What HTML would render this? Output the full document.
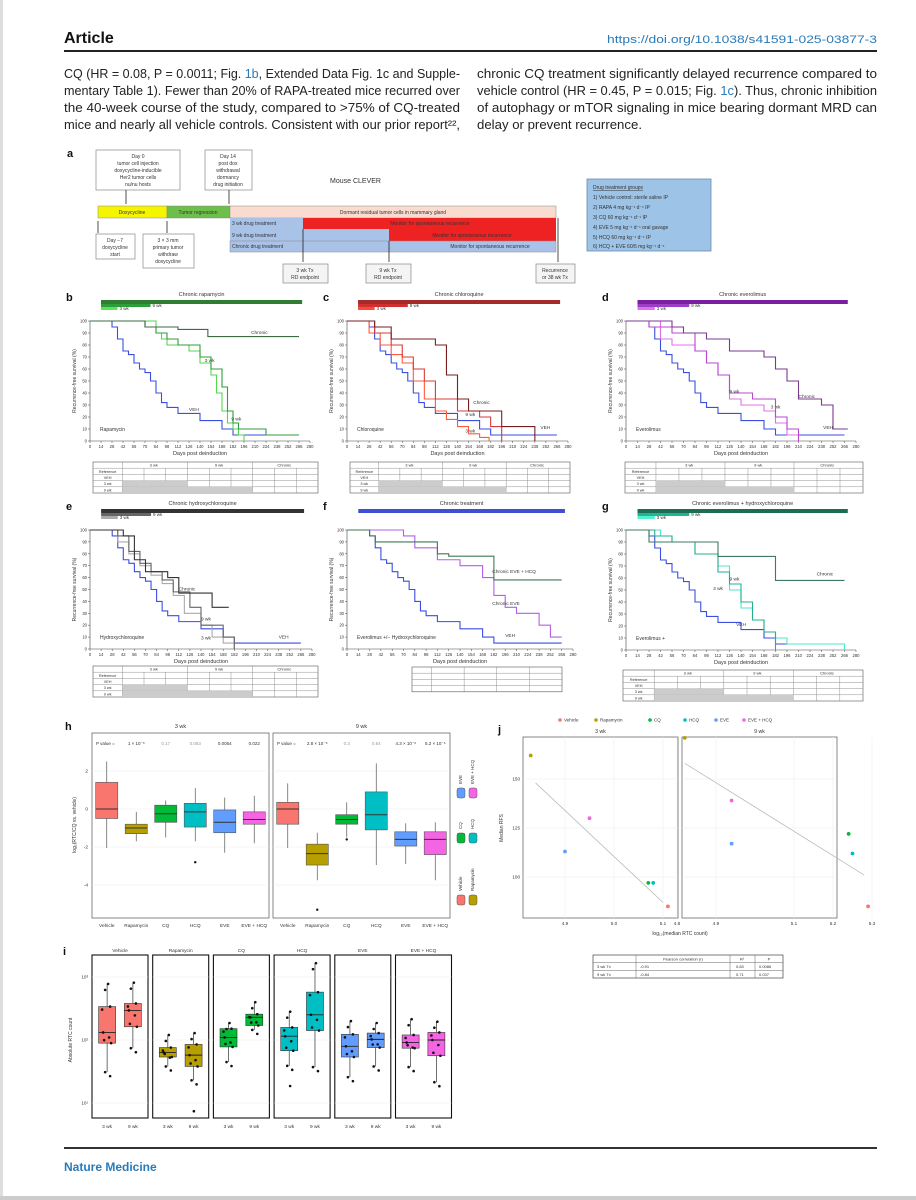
<!DOCTYPE html>
<html><head><meta charset="utf-8"><style>
html,body{margin:0;padding:0;background:#fff;width:916px;height:1200px;overflow:hidden}
svg{display:block;font-family:"Liberation Sans",sans-serif}
</style></head><body>
<svg id="pg" width="916" height="1200" viewBox="0 0 916 1200" xmlns="http://www.w3.org/2000/svg">
<rect x="0" y="0" width="916" height="1200" fill="#fff"/>
<rect x="0" y="0" width="3" height="1200" fill="#ddd"/>
<rect x="0" y="1196" width="916" height="4" fill="#ccc"/>
<text x="64" y="43" font-size="16" font-weight="bold" fill="#111">Article</text>
<text x="877" y="43" font-size="11" fill="#2a7ab8" text-anchor="end" textLength="270" lengthAdjust="spacingAndGlyphs">https://doi.org/10.1038/s41591-025-03877-3</text>
<rect x="64" y="50" width="813" height="2" fill="#222"/>
<g font-size="13" fill="#222">
<text x="64" y="78" textLength="396" lengthAdjust="spacingAndGlyphs">CQ (HR = 0.08, P = 0.0011; Fig. <tspan fill="#2a7ab8">1b</tspan>, Extended Data Fig. 1c and Supple-</text>
<text x="64" y="95" textLength="396" lengthAdjust="spacingAndGlyphs">mentary Table 1). Fewer than 20% of RAPA-treated mice recurred over</text>
<text x="64" y="112" textLength="396" lengthAdjust="spacingAndGlyphs">the 40-week course of the study, compared to &gt;75% of CQ-treated</text>
<text x="64" y="129" textLength="396" lengthAdjust="spacingAndGlyphs">mice and nearly all vehicle controls. Consistent with our prior report²²,</text>
<text x="477" y="78" textLength="400" lengthAdjust="spacingAndGlyphs">chronic CQ treatment significantly delayed recurrence compared to</text>
<text x="477" y="95" textLength="400" lengthAdjust="spacingAndGlyphs">vehicle control (HR = 0.45, P = 0.015; Fig. <tspan fill="#2a7ab8">1c</tspan>). Thus, chronic inhibition</text>
<text x="477" y="112" textLength="400" lengthAdjust="spacingAndGlyphs">of autophagy or mTOR signaling in mice bearing dormant MRD can</text>
<text x="477" y="129" textLength="165" lengthAdjust="spacingAndGlyphs">delay or prevent recurrence.</text>
</g>
<!-- panel a -->
<g font-size="5" fill="#333">
<text x="67" y="157" font-size="11" font-weight="bold" fill="#111">a</text>
<rect x="96" y="150" width="84" height="40" fill="#fff" stroke="#888" stroke-width="0.7"/>
<text x="138" y="158" text-anchor="middle">Day 0</text><text x="138" y="165" text-anchor="middle">tumor cell injection</text><text x="138" y="172" text-anchor="middle">doxycycline-inducible</text><text x="138" y="179" text-anchor="middle">Her2 tumor cells</text><text x="138" y="186" text-anchor="middle">nu/nu hosts</text>
<rect x="205" y="150" width="47" height="40" fill="#fff" stroke="#888" stroke-width="0.7"/>
<text x="228" y="158" text-anchor="middle">Day 14</text><text x="228" y="165" text-anchor="middle">post dox</text><text x="228" y="172" text-anchor="middle">withdrawal</text><text x="228" y="179" text-anchor="middle">dormancy</text><text x="228" y="186" text-anchor="middle">drug initiation</text>
<line x1="126" y1="190" x2="126" y2="204" stroke="#222" stroke-width="0.8"/><line x1="229" y1="190" x2="229" y2="204" stroke="#222" stroke-width="0.8"/>
<text x="330" y="183" font-size="7">Mouse CLEVER</text>
<rect x="98" y="206" width="69" height="12" fill="#f5f500" stroke="#888" stroke-width="0.5"/><text x="132" y="214" text-anchor="middle">Doxycycline</text>
<rect x="167" y="206" width="63" height="12" fill="#6cc04a" stroke="#888" stroke-width="0.5"/><text x="198" y="214" text-anchor="middle">Tumor regression</text>
<rect x="230" y="206" width="326" height="12" fill="#f9dccf" stroke="#888" stroke-width="0.5"/><text x="393" y="214" text-anchor="middle">Dormant residual tumor cells in mammary gland</text>
<rect x="230" y="218" width="73" height="11" fill="#a9c2e8"/><rect x="303" y="218" width="253" height="11" fill="#ee2222"/>
<text x="232" y="225">3 wk drug treatment</text><text x="430" y="225" text-anchor="middle">Monitor for spontaneous recurrence</text>
<rect x="230" y="229" width="159" height="12" fill="#a9c2e8"/><rect x="389" y="229" width="167" height="12" fill="#ee2222"/>
<text x="232" y="237">9 wk drug treatment</text><text x="472" y="237" text-anchor="middle">Monitor for spontaneous recurrence</text>
<rect x="230" y="241" width="326" height="11" fill="#a9c2e8" stroke="#888" stroke-width="0.5"/>
<text x="232" y="248">Chronic drug treatment</text><text x="490" y="248" text-anchor="middle">Monitor for spontaneous recurrence</text>
<line x1="303" y1="229" x2="303" y2="262" stroke="#222" stroke-width="0.8"/><line x1="389" y1="241" x2="389" y2="262" stroke="#222" stroke-width="0.8"/><line x1="558" y1="218" x2="558" y2="262" stroke="#222" stroke-width="0.8"/>
<line x1="98" y1="221" x2="98" y2="233" stroke="#222" stroke-width="0.8"/><line x1="167" y1="221" x2="167" y2="233" stroke="#222" stroke-width="0.8"/>
<rect x="96" y="234" width="39" height="25" fill="#fff" stroke="#888" stroke-width="0.7"/><text x="115" y="242" text-anchor="middle">Day −7</text><text x="115" y="249" text-anchor="middle">doxycycline</text><text x="115" y="256" text-anchor="middle">start</text>
<rect x="143" y="234" width="51" height="34" fill="#fff" stroke="#888" stroke-width="0.7"/><text x="168" y="242" text-anchor="middle">3 × 3 mm</text><text x="168" y="249" text-anchor="middle">primary tumor</text><text x="168" y="256" text-anchor="middle">withdraw</text><text x="168" y="263" text-anchor="middle">doxycycline</text>
<rect x="283" y="264" width="45" height="19" fill="#f4f4f4" stroke="#888" stroke-width="0.7"/><text x="305" y="272" text-anchor="middle">3 wk Tx</text><text x="305" y="279" text-anchor="middle">RD endpoint</text>
<rect x="366" y="264" width="45" height="19" fill="#f4f4f4" stroke="#888" stroke-width="0.7"/><text x="388" y="272" text-anchor="middle">9 wk Tx</text><text x="388" y="279" text-anchor="middle">RD endpoint</text>
<rect x="536" y="264" width="39" height="19" fill="#f4f4f4" stroke="#888" stroke-width="0.7"/><text x="555" y="272" text-anchor="middle">Recurrence</text><text x="555" y="279" text-anchor="middle">or 38 wk Tx</text>
<rect x="587" y="179" width="124" height="72" fill="#9dc3e6" stroke="#6a8cb0" stroke-width="0.8"/>
<text x="593" y="189" text-decoration="underline">Drug treatment groups</text>
<text x="593" y="199">1) Vehicle control: sterile saline IP</text><text x="593" y="209">2) RAPA 4 mg kg⁻¹ d⁻¹ IP</text><text x="593" y="219">3) CQ 60 mg kg⁻¹ d⁻¹ IP</text><text x="593" y="229">4) EVE 5 mg kg⁻¹ d⁻¹ oral gavage</text><text x="593" y="239">5) HCQ 60 mg kg⁻¹ d⁻¹ IP</text><text x="593" y="248">6) HCQ + EVE 60/5 mg kg⁻¹ d⁻¹</text>
</g>
<g id="charts"></g>
<rect x="64" y="1147" width="813" height="2" fill="#333"/>
<text x="64" y="1171" font-size="12" font-weight="bold" fill="#2a7ab8">Nature Medicine</text>
</svg>
<script>
// ---------- KM data (days, % recurrence-free) ----------
const kmDays=[0,14,28,42,56,70,84,98,112,126,140,154,168,182,196,210,224,238,252,266,280];
const vehT=[0,28,35,42,49,56,63,70,77,84,91,98,112,126,140,168,182,266];
const vehS=[100,95,85,75,72,65,60,57,50,40,32,28,23,23,17,10,5,5];
const b3T=[0,84,91,98,105,126,140,154,161,168,175,182,189,196];
const b3S=[100,90,85,80,80,75,65,55,40,25,15,10,5,0];
const b9T=[0,70,84,98,112,140,154,168,175,182,189,224,266];
const b9S=[100,95,90,85,80,70,60,45,25,15,10,5,5];
const bChT=[0,70,84,112,150,266];
const bChS=[100,95,95,93,87,87];
const c3T=[0,28,42,56,70,84,98,112,126,140,154,168,180];
const c3S=[100,90,80,72,65,50,35,25,18,12,6,3,0];
const c9T=[0,35,56,70,84,98,112,140,168,182,196];
const c9S=[100,90,80,70,60,50,35,25,20,12,0];
const cChT=[0,35,56,70,112,126,140,154,196,238];
const cChS=[100,95,85,85,80,55,35,25,12,0];
const d3T=[0,42,56,84,98,112,126,140,168,182,196,210];
const d3S=[100,85,80,75,65,55,35,30,25,15,5,0];
const d9T=[0,28,56,84,98,112,126,154,182,196,210];
const d9S=[100,95,90,75,65,55,40,35,20,10,0];
const dChT=[0,56,70,98,126,168,182,196,210,238,252,270];
const dChS=[100,95,90,85,75,70,60,50,35,30,10,10];
const e3T=[0,35,49,63,77,91,105,119,140,154,168,182];
const e3S=[100,90,80,70,62,55,45,30,20,10,5,0];
const e9T=[0,35,49,63,77,91,105,126,140,168,182];
const e9S=[100,95,82,72,65,58,48,35,20,10,0];
const eChT=[0,42,56,70,98,112,154,175];
const eChS=[100,95,75,65,60,47,35,35];
const fEveT=[0,28,70,84,112,140,168,182,196,210,238,252,266];
const fEveS=[100,100,95,85,75,70,60,45,35,30,20,10,10];
const fEhT=[0,28,35,112,126,182,266];
const fEhS=[100,95,90,80,78,58,58];
const g3T=[0,42,56,84,112,126,140,154,168,182,196,266];
const g3S=[100,95,90,80,70,50,35,25,15,10,5,0];
const g9T=[0,35,56,84,112,126,140,154,168,182];
const g9S=[100,95,90,80,65,55,40,25,15,0];
const gChT=[0,28,98,112,182,266];
const gChS=[100,90,90,78,58,58];

// ---------- h data (log2 RTC vs vehicle): lo,q1,med,q3,hi ----------
const hGroups=["Vehicle","Rapamycin","CQ","HCQ","EVE","EVE + HCQ"];
const hColors=["#F8766D","#B79F00","#00BA38","#00BFC4","#619CFF","#F564E3"];
const h3Lo=[-2.05,-1.7,-1.5,-1.7,-2.3,-1.8];
const h3Q1=[-0.5,-1.3,-0.7,-0.95,-1.25,-0.8];
const h3Med=[0,-1.0,-0.25,-0.15,-0.7,-0.55];
const h3Q3=[1.4,-0.8,0.2,0.3,-0.05,-0.15];
const h3Hi=[2.5,-0.15,0.45,1.1,0.6,0.7];
const h9Lo=[-2.05,-3.75,-1.5,-2.95,-2.9,-3.75];
const h9Q1=[-0.8,-2.95,-0.8,-1.1,-1.95,-2.4];
const h9Med=[0,-2.35,-0.55,-0.3,-1.6,-1.6];
const h9Q3=[0.35,-1.85,-0.3,0.9,-1.2,-1.2];
const h9Hi=[1.35,-1.25,0.35,2.4,-0.75,-0.7];
const h3P=["1 × 10⁻⁶","0.17","0.083","0.0054","0.022"];
const h9P=["2.8 × 10⁻⁸","0.3","0.64","4.3 × 10⁻⁶","5.2 × 10⁻⁶"];
const hTicks=[2,0,-2,-4];

// ---------- i data (log10 absolute RTC count) ----------
const i3Lo=[1.49,1.58,1.65,1.59,1.41,1.57];
const i3Q1=[1.95,1.73,1.89,1.83,1.73,1.87];
const i3Med=[2.12,1.80,2.04,2.06,1.90,1.96];
const i3Q3=[2.53,1.88,2.18,2.20,2.09,2.08];
const i3Hi=[2.89,2.08,2.27,2.45,2.30,2.33];
const i9Lo=[1.87,1.36,2.16,1.57,1.58,1.33];
const i9Q1=[2.21,1.58,2.23,2.15,1.88,1.75];
const i9Med=[2.47,1.76,2.36,2.40,2.01,2.00];
const i9Q3=[2.58,1.93,2.41,2.76,2.11,2.12];
const i9Hi=[2.91,2.11,2.60,3.22,2.27,2.29];

// ---------- j data ----------
const jX3=[5.11,4.83,5.07,5.08,4.90,4.95];
const jY3=[85,162,97,97,113,130];
const jX9=[5.29,4.82,5.24,5.25,4.94,4.94];
const jY9=[85,171,122,112,117,139];
const jFit3=[[4.84,148],[5.10,87]];
const jFit9=[[4.82,158],[5.28,101]];

const NS='http://www.w3.org/2000/svg';
const root=document.getElementById('charts');
function mk(tag,attrs,parent){const e=document.createElementNS(NS,tag);for(const k in attrs)e.setAttribute(k,attrs[k]);(parent||root).appendChild(e);return e;}
function txt(x,y,s,size,parent,extra){const t=mk('text',Object.assign({x:x,y:y,'font-size':size,fill:'#333'},extra||{}),parent);t.textContent=s;return t;}

function kmPanel(name,letter,x0,x1,y100,y0,title,barCol,curves,noteText,tbl){
  const g=mk('g',{});
  
  
  const xs=d=>x0+(x1-x0)*d/280, ys=s=>y0-(y0-y100)*s/100;
  const lab=txt(x0-24,y100-20,letter,11,g,{'font-weight':'bold',fill:'#111'});
  
  const tt=txt((xs(14)+xs(270))/2,y100-25,title,5.5,g,{'text-anchor':'middle'});
  
  const bar=mk('rect',{x:xs(14),y:y100-21,width:xs(270)-xs(14),height:4,fill:barCol[0]},g);
  
  if(barCol[1]){const b9=mk('rect',{x:xs(14),y:y100-17,width:xs(77)-xs(14),height:3,fill:barCol[1]},g);
  
  const b3=mk('rect',{x:xs(14),y:y100-14,width:xs(35)-xs(14),height:3,fill:barCol[2]},g);
  
  txt(xs(35)+2,y100-11,'3 wk',4.5,g);txt(xs(77)+2,y100-14,'9 wk',4.5,g);}
  mk('line',{x1:x0,y1:y0,x2:x1,y2:y0,stroke:'#444','stroke-width':0.6},g);
  mk('line',{x1:x0,y1:y100,x2:x0,y2:y0,stroke:'#444','stroke-width':0.6},g);
  kmDays.forEach(d=>{mk('line',{x1:xs(d),y1:y0,x2:xs(d),y2:y0+2,stroke:'#444','stroke-width':0.5},g);txt(xs(d),y0+7,String(d),4.2,g,{'text-anchor':'middle'});});
  for(let s=0;s<=100;s+=10){mk('line',{x1:x0-2,y1:ys(s),x2:x0,y2:ys(s),stroke:'#444','stroke-width':0.5},g);txt(x0-3,ys(s)+1.5,String(s),4.2,g,{'text-anchor':'end'});}
  txt((x0+x1)/2,y0+14,'Days post deinduction',5.5,g,{'text-anchor':'middle'});
  txt(x0-14,(y100+y0)/2,'Recurrence-free survival (%)',5,g,{'text-anchor':'middle',transform:'rotate(-90 '+(x0-14)+' '+((y100+y0)/2)+')'});
  curves.forEach(c=>{let d='M'+xs(c.t[0])+' '+ys(c.s[0]);for(let i=1;i<c.t.length;i++){d+=' H'+xs(c.t[i])+' V'+ys(c.s[i]);}
    const p=mk('path',{d:d,fill:'none',stroke:c.col,'stroke-width':1.1},g);
    
    
    if(c.lx!==undefined)txt(xs(c.lx),ys(c.ly),c.label,4.8,g);});
  txt(x0+10,y0-10,noteText,5,g);
  // table
  const tg=mk('g',{},g);
  
  
  const [tx,ty,tw,rows]=tbl;const rh=6.2;
  mk('rect',{x:tx,y:ty,width:tw,height:rh*rows,fill:'#fff',stroke:'#555','stroke-width':0.6},tg);
  for(let r=1;r<rows;r++)mk('line',{x1:tx,y1:ty+r*rh,x2:tx+tw,y2:ty+r*rh,stroke:'#777','stroke-width':0.4},tg);
  const nc=rows===5?10:5;
  for(let c=1;c<nc;c++){const cx=tx+tw*(c===1?0.13:0.13+(c-1)*0.87/(nc-1));mk('line',{x1:cx,y1:ty+(rows===5&&(c%3!==1)?rh:0),x2:cx,y2:ty+rh*rows,stroke:'#777','stroke-width':0.4},tg);}
  if(rows===5){mk('rect',{x:tx+tw*0.13,y:ty+4*rh,width:tw*0.58,height:rh,fill:'#ccc'},tg);mk('rect',{x:tx+tw*0.13,y:ty+3*rh,width:tw*0.29,height:rh,fill:'#ccc'},tg);
    txt(tx+tw*0.27,ty+4.6,'3 wk',4,tg,{'text-anchor':'middle'});txt(tx+tw*0.56,ty+4.6,'9 wk',4,tg,{'text-anchor':'middle'});txt(tx+tw*0.85,ty+4.6,'Chronic',4,tg,{'text-anchor':'middle'});
    ['Reference','VEH','3 wk','9 wk'].forEach((s,i)=>txt(tx+tw*0.065,ty+rh*(i+1)+4.6,s,3.8,tg,{'text-anchor':'middle'}));}
}
kmPanel('b','b',90,310,321,441,'Chronic rapamycin',['#2e7d32','#2e9e3a','#5de35a'],[
 {t:vehT,s:vehS,col:'#3a4fe0',label:'VEH',lx:126,ly:25},{t:b3T,s:b3S,col:'#56d64f',label:'3 wk',lx:146,ly:66},
 {t:b9T,s:b9S,col:'#2f9e3a',label:'9 wk',lx:180,ly:17},{t:bChT,s:bChS,col:'#3c6b44',label:'Chronic',lx:205,ly:89}],'Rapamycin',[93,462,225,5]);
kmPanel('c','c',347,568,321,441,'Chronic chloroquine',['#a52a2a','#d03030','#ff4a3a'],[
 {t:vehT,s:vehS,col:'#3a4fe0',label:'VEH',lx:245,ly:10},{t:c3T,s:c3S,col:'#ff5a40',label:'3 wk',lx:150,ly:7},
 {t:c9T,s:c9S,col:'#d83a3a',label:'9 wk',lx:150,ly:21},{t:cChT,s:cChS,col:'#7a1f1f',label:'Chronic',lx:160,ly:31}],'Chloroquine',[350,462,220,5]);
kmPanel('d','d',626,856,321,441,'Chronic everolimus',['#7b1fa2','#9c3fc6','#e070f0'],[
 {t:vehT,s:vehS,col:'#3a4fe0',label:'VEH',lx:240,ly:10},{t:d3T,s:d3S,col:'#e070e8',label:'3 wk',lx:176,ly:27},
 {t:d9T,s:d9S,col:'#b848d0',label:'9 wk',lx:126,ly:40},{t:dChT,s:dChS,col:'#7a3a90',label:'Chronic',lx:210,ly:36}],'Everolimus',[625,462,238,5]);
kmPanel('e','e',90,312,530,649,'Chronic hydroxychloroquine',['#333','#666','#aaa'],[
 {t:vehT,s:vehS,col:'#3a4fe0',label:'VEH',lx:238,ly:9},{t:e3T,s:e3S,col:'#aaa',label:'3 wk',lx:140,ly:8},
 {t:e9T,s:e9S,col:'#666',label:'9 wk',lx:140,ly:24},{t:eChT,s:eChS,col:'#333',label:'Chronic',lx:112,ly:49}],'Hydroxychloroquine',[93,666,225,5]);
kmPanel('f','f',347,573,530,649,'Chronic treatment',['#3d4fd6'],[
 {t:vehT,s:vehS,col:'#3a4fe0',label:'VEH',lx:196,ly:10},{t:fEveT,s:fEveS,col:'#b060e8',label:'Chronic EVE',lx:180,ly:37},
 {t:fEhT,s:fEhS,col:'#3f7a55',label:'Chronic EVE + HCQ',lx:180,ly:64}],'Everolimus +/− Hydroxychloroquine',[412,667,150,4]);
kmPanel('g','g',626,856,530,650,'Chronic everolimus + hydroxychloroquine',['#1b6e55','#21b591','#55f0d0'],[
 {t:vehT,s:vehS,col:'#3a4fe0',label:'VEH',lx:134,ly:20},{t:g3T,s:g3S,col:'#4ee6cc',label:'3 wk',lx:106,ly:50},
 {t:g9T,s:g9S,col:'#23b08f',label:'9 wk',lx:126,ly:58},{t:gChT,s:gChS,col:'#3f7a60',label:'Chronic',lx:232,ly:62}],'Everolimus +',[623,670,240,5]);

// ---------- panel h ----------
(function(){
 const g=mk('g',{});
 
 
 const L=txt(65,730,'h',11,g,{'font-weight':'bold',fill:'#111'});
 
 const yv=v=>809-19*v, top=733, bot=918;
 const facets=[[92,269,'3 wk',h3Lo,h3Q1,h3Med,h3Q3,h3Hi,h3P],[273,450,'9 wk',h9Lo,h9Q1,h9Med,h9Q3,h9Hi,h9P]];
 facets.forEach(([a,b,lab,lo,q1,md,q3,hi,pv])=>{
  mk('rect',{x:a,y:top,width:b-a,height:bot-top,fill:'#fff',stroke:'#555','stroke-width':0.7},g);
  hTicks.forEach(t=>mk('line',{x1:a,y1:yv(t),x2:b,y2:yv(t),stroke:'#eee','stroke-width':0.6},g));
  txt((a+b)/2,728,lab,5.5,g,{'text-anchor':'middle'});
  const sp=(b-a)/6;
  txt(a+4,745,'P value =',4.5,g);
  pv.forEach((p,i)=>txt(a+sp*(i+1.5),745,p,4.5,g,{'text-anchor':'middle',fill:(p==='0.17'||p==='0.083'||p==='0.3'||p==='0.64')?'#999':'#333'}));
  hGroups.forEach((n,i)=>{const cx=a+sp*(i+0.5),w=sp*0.75;
   mk('line',{x1:cx,y1:yv(hi[i]),x2:cx,y2:yv(lo[i]),stroke:'#555','stroke-width':0.7},g);
   const r=mk('rect',{x:cx-w/2,y:yv(q3[i]),width:w,height:yv(q1[i])-yv(q3[i]),fill:hColors[i],stroke:'#555','stroke-width':0.6},g);
   
   
   mk('line',{x1:cx-w/2,y1:yv(md[i]),x2:cx+w/2,y2:yv(md[i]),stroke:'#333','stroke-width':1},g);
   txt(cx,927,n,4.8,g,{'text-anchor':'middle'});});
 });
 mk('circle',{cx:92+29.5*3.5,cy:yv(-2.8),r:1.2,fill:'#111'},g);
 mk('circle',{cx:273+29.5*1.5,cy:yv(-5.3),r:1.2,fill:'#111'},g);
 mk('circle',{cx:273+29.5*2.5,cy:yv(-1.6),r:1.2,fill:'#111'},g);
 hTicks.forEach(t=>txt(88,yv(t)+1.5,String(t),4.8,g,{'text-anchor':'end'}));
 txt(76,825,'log₂(RTC/CQ vs. vehicle)',5,g,{'text-anchor':'middle',transform:'rotate(-90 76 825)'});
 // legend
 const lg=[[0,1,900],[2,3,838],[4,5,793]];
 lg.forEach(([i,j,y])=>{[i,j].forEach((k,m)=>{const x=457+m*12;
  const r=mk('rect',{x:x,y:y-5,width:8,height:10,rx:2,fill:hColors[k],stroke:'#555','stroke-width':0.5},g);
  
  
  txt(x+5,y-9,hGroups[k],4.5,g,{transform:'rotate(-90 '+(x+5)+' '+(y-9)+')'});});});
})();

// ---------- panel j ----------
(function(){
 const g=mk('g',{});
 
 
 const L=txt(498,733,'j',11,g,{'font-weight':'bold',fill:'#111'});
 
 hGroups.forEach((n,i)=>{const x=558+i*[0,24,48,64,80,96][1]*1;});
 const lx=[560,596,650,685,716,744];
 hGroups.forEach((n,i)=>{const c=mk('circle',{cx:lx[i],cy:720,r:1.8,fill:hColors[i]},g);
  
  
  txt(lx[i]+4,721.6,n,4.5,g);});
 const yv=v=>877-1.96*(v-100), top=737, bot=918;
 const facets=[[523,678,'3 wk',x=>565+(x-4.9)*490,[4.9,5.0,5.1],jX3,jY3,jFit3],[682,837,'9 wk',x=>716+(x-4.9)*390,[4.8,4.9,5.1,5.2,5.3],jX9,jY9,jFit9]];
 facets.forEach(([a,b,lab,xv,ticks,X,Y,fit])=>{
  mk('rect',{x:a,y:top,width:b-a,height:bot-top,fill:'#fff',stroke:'#555','stroke-width':0.7},g);
  [100,125,150].forEach(t=>mk('line',{x1:a,y1:yv(t),x2:b,y2:yv(t),stroke:'#eee','stroke-width':0.6},g));
  ticks.forEach(t=>{mk('line',{x1:xv(t),y1:top,x2:xv(t),y2:bot,stroke:'#eee','stroke-width':0.6},g);txt(xv(t),925,t.toFixed(1),4.6,g,{'text-anchor':'middle'});});
  txt((a+b)/2,733,lab,5.2,g,{'text-anchor':'middle'});
  const fl=mk('line',{x1:xv(fit[0][0]),y1:yv(fit[0][1]),x2:xv(fit[1][0]),y2:yv(fit[1][1]),stroke:'#bbb','stroke-width':0.8},g);
  
  X.forEach((x,i)=>{const p=mk('circle',{cx:xv(x),cy:yv(Y[i]),r:1.9,fill:hColors[i]},g);
   
   });
 });
 [100,125,150].forEach(t=>txt(520,yv(t)+1.5,String(t),4.6,g,{'text-anchor':'end'}));
 txt(503,828,'Median RFS',5,g,{'text-anchor':'middle',transform:'rotate(-90 503 828)'});
 txt(680,935,'log₁₀(median RTC count)',5,g,{'text-anchor':'middle'});
 const tg=mk('g',{},g);
 
 
 mk('rect',{x:593,y:955,width:190,height:23,fill:'#fff',stroke:'#444','stroke-width':0.7},tg);
 [962.6,970.3].forEach(y=>mk('line',{x1:593,y1:y,x2:783,y2:y,stroke:'#666','stroke-width':0.5},tg));
 [636,730,755].forEach(x=>mk('line',{x1:x,y1:955,x2:x,y2:978,stroke:'#666','stroke-width':0.5},tg));
 txt(683,960.5,'Pearson correlation (r)',4,tg,{'text-anchor':'middle'});txt(742,960.5,'R²',4,tg,{'text-anchor':'middle'});txt(769,960.5,'P',4,tg,{'text-anchor':'middle'});
 txt(597,968,'3 wk Tx',4,tg);txt(640,968,'-0.91',4,tg);txt(736,968,'0.83',4,tg);txt(759,968,'0.0086',4,tg);
 txt(597,976,'9 wk Tx',4,tg);txt(640,976,'-0.84',4,tg);txt(736,976,'0.71',4,tg);txt(759,976,'0.037',4,tg);
})();

// ---------- panel i ----------
(function(){
 const g=mk('g',{});
 
 
 const L=txt(63,955,'i',11,g,{'font-weight':'bold',fill:'#111'});
 
 const yv=v=>1040-63*(v-2), top=955, bot=1118;
 const pw=56, gap=4.7;
 hGroups.forEach((n,i)=>{const a=92+i*(pw+gap), b=a+pw;
  mk('rect',{x:a,y:top,width:pw,height:bot-top,fill:'#fff',stroke:'#111','stroke-width':1.1},g);
  [1,2,3].forEach(t=>mk('line',{x1:a,y1:yv(t),x2:b,y2:yv(t),stroke:'#eee','stroke-width':0.6},g));
  txt((a+b)/2,952,n,4.8,g,{'text-anchor':'middle'});
  [[i3Lo,i3Q1,i3Med,i3Q3,i3Hi,'3 wk',0.27],[i9Lo,i9Q1,i9Med,i9Q3,i9Hi,'9 wk',0.73]].forEach(([lo,q1,md,q3,hi,lab,f])=>{
   const cx=a+pw*f,w=17;
   mk('line',{x1:cx,y1:yv(hi[i]),x2:cx,y2:yv(lo[i]),stroke:'#333','stroke-width':0.7},g);
   const r=mk('rect',{x:cx-w/2,y:yv(q3[i]),width:w,height:yv(q1[i])-yv(q3[i]),fill:hColors[i],stroke:'#333','stroke-width':0.6},g);
   
   
   mk('line',{x1:cx-w/2,y1:yv(md[i]),x2:cx+w/2,y2:yv(md[i]),stroke:'#222','stroke-width':0.9},g);
   [lo[i],q1[i],md[i],q3[i],hi[i]].forEach((v,k)=>{mk('circle',{cx:cx+[-2,4,-4,3,1][k],cy:yv(v),r:1.3,fill:'#111'},g);mk('circle',{cx:cx+[3,-3,2,-5,-2][k],cy:yv(v)+[4,-3,5,3,6][k],r:1.3,fill:'#111'},g);});
   txt(cx,1128,lab,4.8,g,{'text-anchor':'middle'});
  });
 });
 mk('circle',{cx:92+61*1+56*0.73,cy:yv(0.87),r:1.3,fill:'#111'},g);
 mk('circle',{cx:92+61*3+56*0.27,cy:yv(1.27),r:1.3,fill:'#111'},g);
 [['10³',3],['10²',2],['10¹',1]].forEach(([s,v])=>txt(88,yv(v)+1.5,s,4.6,g,{'text-anchor':'end'}));
 txt(72,1040,'Absolute RTC count',5,g,{'text-anchor':'middle',transform:'rotate(-90 72 1040)'});
})();
</script>
</body></html>
